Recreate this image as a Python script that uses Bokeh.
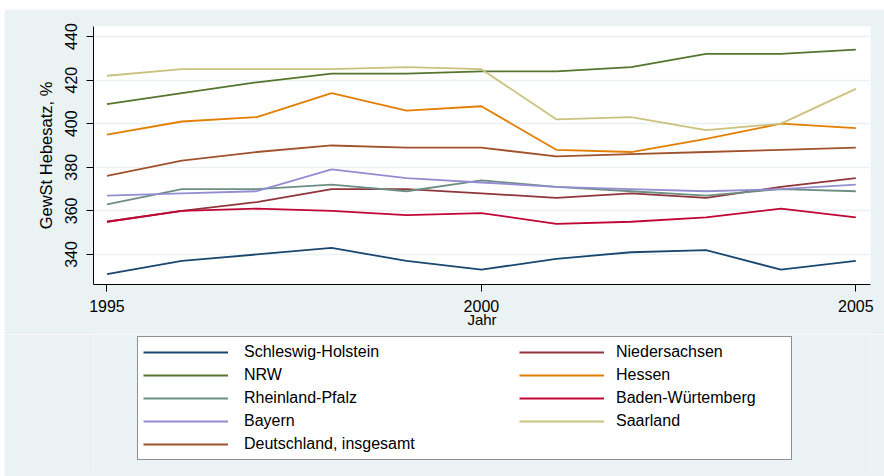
from bokeh.plotting import figure
from bokeh.layouts import column, row
from bokeh.models import Range1d, FixedTicker, Legend, LegendItem, Spacer
from bokeh.embed import file_html
from bokeh.resources import INLINE

years = [1995, 1996, 1997, 1998, 1999, 2000, 2001, 2002, 2003, 2004, 2005]
schleswig_holstein = [331, 337, 340, 343, 337, 333, 338, 341, 342, 333, 337]
niedersachsen = [355, 360, 364, 370, 370, 368, 366, 368, 366, 371, 375]
nrw = [409, 414, 419, 423, 423, 424, 424, 426, 432, 432, 434]
hessen = [395, 401, 403, 414, 406, 408, 388, 387, 393, 400, 398]
rheinland_pfalz = [363, 370, 370, 372, 369, 374, 371, 369, 367, 370, 369]
baden_wuerttemberg = [355, 360, 361, 360, 358, 359, 354, 355, 357, 361, 357]
bayern = [367, 368, 369, 379, 375, 373, 371, 370, 369, 370, 372]
saarland = [422, 425, 425, 425, 426, 425, 402, 403, 397, 400, 416]
deutschland = [376, 383, 387, 390, 389, 389, 385, 386, 387, 388, 389]

series_names = ["Schleswig-Holstein", "Niedersachsen", "NRW", "Hessen", "Rheinland-Pfalz",
                "Baden-Würtemberg", "Bayern", "Saarland", "Deutschland, insgesamt"]
series_values = [schleswig_holstein, niedersachsen, nrw, hessen, rheinland_pfalz,
                 baden_wuerttemberg, bayern, saarland, deutschland]
series_colors = ["#1A476F", "#90353B", "#55752F", "#E37E00", "#6E8E84",
                 "#C10534", "#938DD2", "#CAC27E", "#A0522D"]

x_ticks = [1995, 2000, 2005]
y_ticks = [340, 360, 380, 400, 420, 440]

FONT = "Liberation Sans"
BG = "#EAF2F3"

# ---------------- chart ----------------
p = figure(width=880, height=325,
           x_range=Range1d(1994.82, 2005.196), y_range=Range1d(326.2, 444.6),
           output_backend="svg", toolbar_location=None, title=None,
           min_border_left=89, min_border_right=14, min_border_top=17, min_border_bottom=50)
p.border_fill_color = BG
p.background_fill_color = "#FFFFFF"
p.outline_line_color = None

for name, vals, col in zip(series_names, series_values, series_colors):
    p.line(years, vals, line_color=col, line_width=1.8)

p.xgrid.visible = False
p.ygrid.ticker = FixedTicker(ticks=y_ticks)
p.ygrid.grid_line_color = BG
p.ygrid.grid_line_width = 1.5

xa = p.xaxis[0]
xa.ticker = FixedTicker(ticks=x_ticks)
xa.axis_label = "Jahr"
xa.axis_line_color = "#000000"
xa.major_tick_line_color = "#000000"
xa.major_tick_out = 7
xa.major_tick_in = 0
xa.minor_tick_out = 0
xa.minor_tick_in = 0
xa.major_label_text_font = FONT
xa.major_label_text_font_size = "16px"
xa.major_label_text_color = "#000000"
xa.major_label_standoff = 8
xa.axis_label_text_font = FONT
xa.axis_label_text_font_size = "15px"
xa.axis_label_text_font_style = "normal"
xa.axis_label_text_color = "#000000"
xa.axis_label_standoff = -4

ya = p.yaxis[0]
ya.ticker = FixedTicker(ticks=y_ticks)
ya.axis_label = "GewSt Hebesatz, %"
ya.axis_line_color = "#000000"
ya.major_tick_line_color = "#000000"
ya.major_tick_out = 7
ya.major_tick_in = 0
ya.minor_tick_out = 0
ya.minor_tick_in = 0
ya.major_label_orientation = "vertical"
ya.major_label_text_font = FONT
ya.major_label_text_font_size = "16px"
ya.major_label_text_color = "#000000"
ya.major_label_standoff = 9
ya.axis_label_text_font = FONT
ya.axis_label_text_font_size = "16.5px"
ya.axis_label_text_font_style = "normal"
ya.axis_label_text_color = "#000000"
ya.axis_label_standoff = 8

# ---------------- legend panel ----------------
q = figure(width=880, height=142, x_range=Range1d(0, 1), y_range=Range1d(0, 1),
           output_backend="svg", toolbar_location=None, title=None,
           x_axis_type=None, y_axis_type=None,
           min_border_left=89, min_border_right=14, min_border_top=0, min_border_bottom=6)
q.border_fill_color = BG
q.background_fill_color = BG
q.outline_line_color = None
q.grid.visible = False

legend_renderers = []
for name, vals, col in zip(series_names, series_values, series_colors):
    legend_renderers.append(q.line(years, vals, line_color=col, line_width=1.8))

left_idx = [0, 2, 4, 6, 8]
right_idx = [1, 3, 5, 7]

leg_a = Legend(items=[LegendItem(label=series_names[i], renderers=[legend_renderers[i]]) for i in left_idx],
               location=(44, 10))
leg_b = Legend(items=[LegendItem(label=series_names[i], renderers=[legend_renderers[i]]) for i in right_idx],
               location=(426, 39))
for lg in (leg_a, leg_b):
    lg.margin = 0
    lg.padding = 5
    lg.spacing = 3
    lg.glyph_width = 85
    lg.glyph_height = 20
    lg.label_height = 20
    lg.label_text_font = FONT
    lg.label_text_font_size = "16px"
    lg.label_text_color = "#000000"
    lg.label_text_baseline = "middle"
leg_a.label_standoff = 16
leg_a.label_width = 542
leg_a.border_line_color = "#222222"
leg_a.border_line_width = 1
leg_a.background_fill_color = "#FFFFFF"
leg_a.background_fill_alpha = 1.0
leg_b.label_standoff = 12
leg_b.border_line_color = None
leg_b.background_fill_alpha = 0.0
q.add_layout(leg_a, "center")
q.add_layout(leg_b, "center")

layout = column(Spacer(height=9, width=884),
                row(Spacer(width=4, height=467), column(p, q, spacing=0), spacing=0),
                spacing=0)
open("out.html", "w").write(file_html(layout, INLINE))
